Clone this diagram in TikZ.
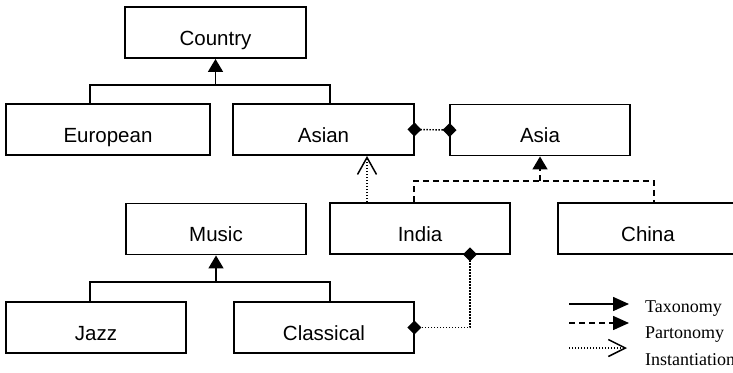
\documentclass[tikz,border=0pt]{standalone}
\usepackage{fontspec}
\setmainfont{Liberation Sans}
\newfontfamily\legendfont{Liberation Serif}
\usetikzlibrary{arrows.meta}
\begin{document}
\begin{tikzpicture}[x=1pt,y=-1pt,
  box/.style={draw,line width=1.9pt,minimum width=180pt,minimum height=51pt,
    inner sep=0pt,text height=25pt,text depth=0pt,
    font=\fontsize{20.5}{24}\selectfont},
  conn/.style={line width=1.6pt},
  dashline/.style={conn,dash pattern=on 6pt off 4pt},
  dots/.style={line width=1.4pt,dash pattern=on 1.4pt off 1.6pt},
  tax/.style={conn,-{Triangle[length=13pt,width=15pt]}},
  part/.style={dashline,-{Triangle[length=13pt,width=15pt]}},
  inst/.style={dots,-{Straight Barb[length=17pt,width=19pt,line width=1.5pt]}},
  agg/.style={dots,{Diamond[length=14pt,width=14pt]}-{Diamond[length=14pt,width=14pt]},
    shorten <=-7.5pt,shorten >=-7.5pt},
  legtext/.style={anchor=base west,inner sep=0pt,
    font=\legendfont\fontsize{18}{20}\selectfont}]
\useasboundingbox (0,0) rectangle (733,372);
\clip (0,0) rectangle (733,372);

% classes
\node[box,minimum width=181pt] (country) at (215.5,32.5) {Country};
\node[box,minimum width=204pt] (european) at (108,129.5) {European};
\node[box,minimum width=181pt] (asian) at (323.5,129.5) {Asian};
\node[box] (asia) at (540,130) {Asia};
\node[box] (india) at (420,228.5) {India};
\node[box] (china) at (648,228.5) {China};
\node[box] (music) at (216,229) {Music};
\node[box] (jazz) at (96,327.5) {Jazz};
\node[box] (classical) at (324,327.5) {Classical};

% taxonomy: Country
\coordinate (bar1) at (215.5,85);
\coordinate (euTop) at ([xshift=-18pt]european.north);
\coordinate (asTop) at ([xshift=6.5pt]asian.north);
\draw[conn] (euTop) |- (bar1) -| (asTop);
\draw[tax] (bar1) -- (country.south);

% partonomy: Asia
\coordinate (bar2) at (540,181);
\coordinate (inTop) at ([xshift=-6pt]india.north);
\coordinate (chTop) at ([xshift=6pt]china.north);
\draw[dashline] (inTop) |- (bar2) -| (chTop);
\draw[part] (bar2) -- (asia.south);

% taxonomy: Music
\coordinate (bar3) at (216,282);
\coordinate (jzTop) at ([xshift=-6pt]jazz.north);
\coordinate (clTop) at ([xshift=6pt]classical.north);
\draw[conn] (jzTop) |- (bar3) -| (clTop);
\draw[tax] (bar3) -- (music.south);

% associations
\draw[agg] (asian.east) -- (asia.west);
\coordinate (inBot) at ([xshift=50pt]india.south);
\draw[agg] (inBot) |- (classical.east);

% instantiation
\coordinate (instFoot) at ([xshift=-53pt]india.north);
\draw[inst] (instFoot) -- (instFoot |- asian.south);

% legend
\coordinate (l1a) at (569,304);
\coordinate (l1b) at (629,304);
\coordinate (l2a) at (569,323);
\coordinate (l2b) at (629,323);
\coordinate (l3a) at (569,348);
\coordinate (l3b) at (627,348);
\draw[conn,-{Triangle[length=16pt,width=14pt]}] (l1a) -- (l1b);
\draw[dashline,-{Triangle[length=16pt,width=14pt]}] (l2a) -- (l2b);
\draw[dots,-{Straight Barb[length=17pt,width=17pt,line width=1.5pt]}] (l3a) -- (l3b);
\node[legtext] (ltax) at (645,312) {Taxonomy};
\node[legtext] (lpart) at (645,338) {Partonomy};
\node[legtext] (linst) at (645,365) {Instantiation};
\end{tikzpicture}
\end{document}
